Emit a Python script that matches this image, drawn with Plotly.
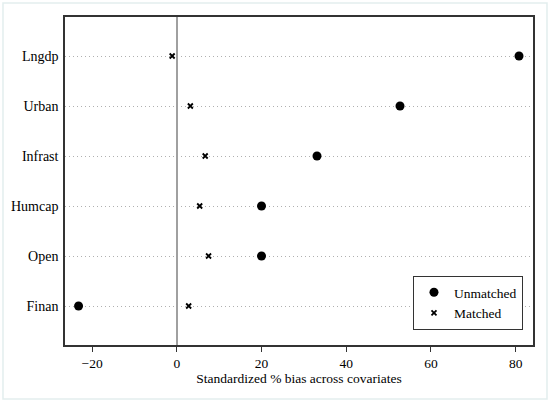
import plotly.graph_objects as go

covariates = ["Finan", "Open", "Humcap", "Infrast", "Urban", "Lngdp"]
unmatched = [-23.2, 20.0, 20.0, 33.1, 52.7, 80.8]
matched = [2.8, 7.5, 5.4, 6.7, 3.2, -1.1]
x_ticks = [-20, 0, 20, 40, 60, 80]

FONT = "Times New Roman, Liberation Serif, DejaVu Serif, serif"

fig = go.Figure()

fig.add_trace(go.Scatter(
    x=unmatched, y=covariates,
    mode="markers",
    name="Unmatched",
    marker=dict(symbol="circle", size=9, color="black"),
))
fig.add_trace(go.Scatter(
    x=matched, y=covariates,
    mode="markers",
    name="Matched",
    marker=dict(symbol="x-thin", size=5, color="black",
                line=dict(width=1.8, color="black")),
))

# light outer frame around the whole graphic
fig.add_shape(type="rect", xref="paper", yref="paper",
              x0=-0.1325, x1=1.0299, y0=-0.1646, y1=1.0427,
              line=dict(color="#e3eeee", width=1.5), layer="below")

fig.update_layout(
    width=550, height=404,
    margin=dict(l=65, r=17, t=17, b=59),
    paper_bgcolor="white",
    plot_bgcolor="white",
    font=dict(family=FONT, size=13, color="black"),
    showlegend=True,
    legend=dict(
        x=0.9786, y=0.0457, xanchor="right", yanchor="bottom",
        bordercolor="#333333", borderwidth=1, bgcolor="white",
        font=dict(family=FONT, size=13.5), itemwidth=30, tracegroupgap=0,
    ),
)

fig.update_xaxes(
    range=[-26.4, 84.1],
    tickvals=x_ticks,
    ticks="outside", ticklen=5, tickcolor="#333333", tickwidth=1,
    showgrid=False,
    zeroline=True, zerolinecolor="#a0a0a0", zerolinewidth=1.5,
    showline=True, mirror=True, linecolor="#333333", linewidth=1.5,
    title=dict(text="Standardized % bias across covariates",
               font=dict(family=FONT, size=13.5), standoff=3),
    tickfont=dict(family=FONT, size=13.5),
)
fig.update_yaxes(
    type="category",
    categoryorder="array", categoryarray=covariates,
    range=[-0.78, 5.78],
    showgrid=True, gridcolor="#b0b0b0", gridwidth=1, griddash="1px,3px",
    zeroline=False,
    ticks="", ticklabelstandoff=2,
    showline=True, mirror=True, linecolor="#333333", linewidth=1.5,
    tickfont=dict(family=FONT, size=14),
)

fig.write_html("out.html", config={"displayModeBar": False},
               post_script="document.body.style.margin='0';")
